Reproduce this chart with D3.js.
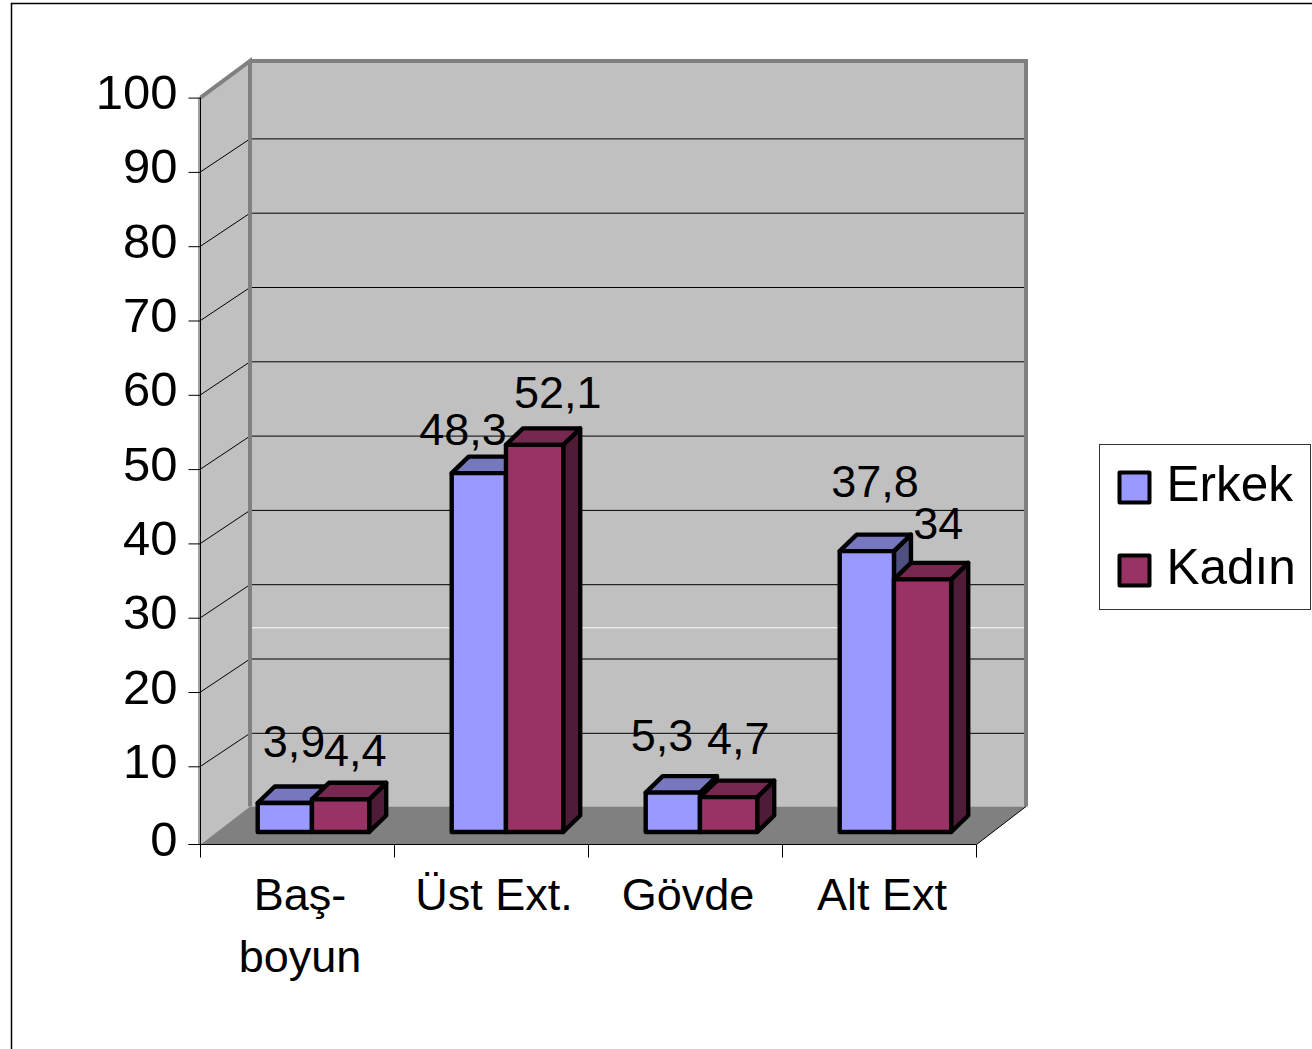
<!DOCTYPE html>
<html>
<head>
<meta charset="utf-8">
<script src="https://cdn.jsdelivr.net/npm/d3@7"></script>
<style>
  html, body { margin: 0; background: #fff; }
  svg { display: block; }
  text { font-family: "Liberation Sans", Arial, sans-serif; fill: #000; }
</style>
</head>
<body>
<svg id="chart" width="1312" height="1049"></svg>
<script>
const categories = ['Baş-|boyun', 'Üst Ext.', 'Gövde', 'Alt Ext'];
const seriesNames = ['Erkek', 'Kadın'];
const erkek = [3.9, 48.3, 5.3, 37.8];
const kadin = [4.4, 52.1, 4.7, 34];
const yTicks = [0, 10, 20, 30, 40, 50, 60, 70, 80, 90, 100];

const colors = {
  Erkek: { front: '#9999ff', top: '#7777bf', side: '#4f4f80' },
  Kadın: { front: '#993366', top: '#772850', side: '#4f1c37' }
};

// the labels were moved by hand in the original, so each has its own nudge
const labelNudge = {
  Erkek: [[0, -30], [-25, -12], [-20, -25], [-1, -38]],
  Kadın: [[5.5, -17], [14, -20], [0.5, -26.5], [6.5, -24]]
};

const tickSize = 49;
const catSize = 45;
const labelSize = 45;
const legendSize = 49.5;
const depth = { x: 49.5, y: -33 };    // wall depth for the grid
const barDepth = { x: 17, y: -16.5 }; // depth of one bar
const barShift = { x: 16.7, y: -8.6 }; // where bars stand on the floor
const floorY = 844.5;                  // front edge of floor, a bit below y(0)
const backFloorY = 806.5;
const backTopY = 61;

const svg = d3.select('#chart');

const x = d3.scaleBand().domain(categories).range([200.5, 976.5]);
const y = d3.scaleLinear().domain([0, 100]).range([840.6, 97.6]);
const xInner = d3.scaleBand().domain(seriesNames).range([40.5, 152]);

const [x0, x1] = x.range();
const bx0 = x0 + depth.x;
const bx1 = x1 + depth.x;
const pts = a => a.map(p => p.join(',')).join(' ');

// outer frame, only top and left sides show
svg.append('path')
  .attr('d', 'M11.5,1049V3.5H1312')
  .attr('fill', 'none')
  .attr('stroke', '#000')
  .attr('stroke-width', 1.5);

// back wall
svg.append('rect')
  .attr('x', bx0)
  .attr('y', backTopY)
  .attr('width', x1 - x0)
  .attr('height', backFloorY - backTopY)
  .attr('fill', '#c0c0c0');

// side wall
svg.append('polygon')
  .attr('points', pts([[x0, floorY], [x0, y(100)], [bx0, backTopY], [bx0, backFloorY]]))
  .attr('fill', '#c0c0c0');

// floor
svg.append('polygon')
  .attr('points', pts([[x0, floorY], [x1, floorY], [bx1, backFloorY], [bx0, backFloorY]]))
  .attr('fill', '#808080');

// grid lines on both walls
yTicks.filter(d => d > 0 && d < 100).forEach(d => {
  svg.append('polyline')
    .attr('points', pts([[x0, y(d)], [bx0, y(d) + depth.y], [bx1, y(d) + depth.y]]))
    .attr('fill', 'none')
    .attr('stroke', '#000')
    .attr('stroke-width', 1);
});

// stray white line on the back wall, it is in the original
svg.append('line')
  .attr('x1', bx0)
  .attr('x2', bx1)
  .attr('y1', y(24.2) + depth.y)
  .attr('y2', y(24.2) + depth.y)
  .attr('stroke', '#fff')
  .attr('stroke-width', 1);

// wall borders
svg.append('path')
  .attr('d', `M${x0},${y(100)}L${bx0},${backTopY}V${backFloorY}M${bx0},${backTopY}H${bx1}V${backFloorY}`)
  .attr('fill', 'none')
  .attr('stroke', '#808080')
  .attr('stroke-width', 4);

svg.append('line')
  .attr('x1', x0 - 1.5).attr('x2', x0 - 1.5)
  .attr('y1', y(100)).attr('y2', floorY)
  .attr('stroke', '#a0a0a0')
  .attr('stroke-width', 2);

// floor edge on the right
svg.append('line')
  .attr('x1', x1).attr('y1', floorY)
  .attr('x2', bx1).attr('y2', backFloorY)
  .attr('stroke', '#000')
  .attr('stroke-width', 1);

// y axis
const yAxis = svg.append('g')
  .attr('transform', `translate(${x0}, 0)`)
  .call(d3.axisLeft(y).tickValues(yTicks).tickSize(12).tickPadding(11).tickFormat(d3.format('d')));
yAxis.selectAll('line').attr('stroke', '#000').attr('stroke-width', 1);
yAxis.select('.domain').attr('d', `M0,${y(100)}V${floorY}`).attr('stroke', '#000').attr('stroke-width', 1);
yAxis.selectAll('text')
  .attr('font-size', tickSize)
  .attr('font-family', '"Liberation Sans", Arial, sans-serif')
  .attr('dy', '0.225em');
// zero tick sits on the floor edge
yAxis.selectAll('.tick').filter(d => d === 0).attr('transform', `translate(0,${floorY})`);

// x axis, ticks sit between the categories
const xAxis = svg.append('g')
  .attr('transform', `translate(0, ${floorY})`)
  .call(d3.axisBottom(x).tickSize(0).tickPadding(0));
xAxis.select('.domain').attr('d', `M${x0 - 12},0H${x1}`).attr('stroke', '#000').attr('stroke-width', 1);
d3.range(categories.length + 1).forEach(i => {
  xAxis.append('line')
    .attr('x1', x0 + i * x.step()).attr('x2', x0 + i * x.step())
    .attr('y1', 0).attr('y2', 13)
    .attr('stroke', '#000')
    .attr('stroke-width', 1);
});
xAxis.selectAll('.tick text').each(function (d) {
  const t = d3.select(this)
    .text(null)
    .attr('font-size', catSize)
    .attr('font-family', '"Liberation Sans", Arial, sans-serif')
    .attr('dy', null)
    .attr('y', 65.5)
    .attr('x', 2.5);
  d.split('|').forEach((part, i) => {
    t.append('tspan').attr('x', 2.5).attr('dy', i ? 62 : 0).text(part);
  });
});

// bars
const series = [
  { name: 'Erkek', values: erkek, trimRight: 1.5, trimLeft: 0 },
  { name: 'Kadın', values: kadin, trimRight: 0, trimLeft: 1.5 }
];

const bars = svg.append('g')
  .attr('stroke', '#000')
  .attr('stroke-width', 4.4)
  .attr('stroke-linejoin', 'round');

categories.forEach((cat, i) => {
  series.forEach(s => {
    const c = colors[s.name];
    const left = x(cat) + xInner(s.name) + barShift.x - s.trimLeft;
    const right = x(cat) + xInner(s.name) + barShift.x + xInner.bandwidth() - s.trimRight;
    const base = y(0) + barShift.y;
    const top = y(s.values[i]) + barShift.y;
    bars.append('polygon')
      .attr('points', pts([
        [right, top], [right + barDepth.x, top + barDepth.y],
        [right + barDepth.x, base + barDepth.y], [right, base]
      ]))
      .attr('fill', c.side);
    bars.append('polygon')
      .attr('points', pts([
        [left, top], [left + barDepth.x, top + barDepth.y],
        [right + barDepth.x, top + barDepth.y], [right, top]
      ]))
      .attr('fill', c.top);
    bars.append('rect')
      .attr('x', left).attr('y', top)
      .attr('width', right - left).attr('height', base - top)
      .attr('fill', c.front);
  });
});

// data labels
const fmt = v => String(v).replace('.', ',');
categories.forEach((cat, i) => {
  series.forEach(s => {
    const [dx, dy] = labelNudge[s.name][i];
    const cx = x(cat) + xInner(s.name) + barShift.x + xInner.bandwidth() / 2 + barDepth.x / 2;
    const cy = y(s.values[i]) + barShift.y + barDepth.y;
    svg.append('text')
      .attr('x', cx + dx)
      .attr('y', cy + dy)
      .attr('text-anchor', 'middle')
      .attr('font-size', labelSize)
      .text(fmt(s.values[i]));
  });
});

// legend
const legend = svg.append('g').attr('transform', 'translate(1099.5, 444.5)');
legend.append('rect')
  .attr('width', 211).attr('height', 165)
  .attr('fill', '#fff')
  .attr('stroke', '#333')
  .attr('stroke-width', 1);
const legendY = d3.scalePoint().domain(seriesNames).range([28, 111]);
seriesNames.forEach(name => {
  legend.append('rect')
    .attr('x', 20).attr('y', legendY(name))
    .attr('width', 30).attr('height', 30)
    .attr('fill', colors[name].front)
    .attr('stroke', '#000')
    .attr('stroke-width', 4)
    .attr('stroke-linejoin', 'round');
  legend.append('text')
    .attr('x', 67)
    .attr('y', legendY(name) + 28.5)
    .attr('font-size', legendSize)
    .text(name);
});
</script>
</body>
</html>
